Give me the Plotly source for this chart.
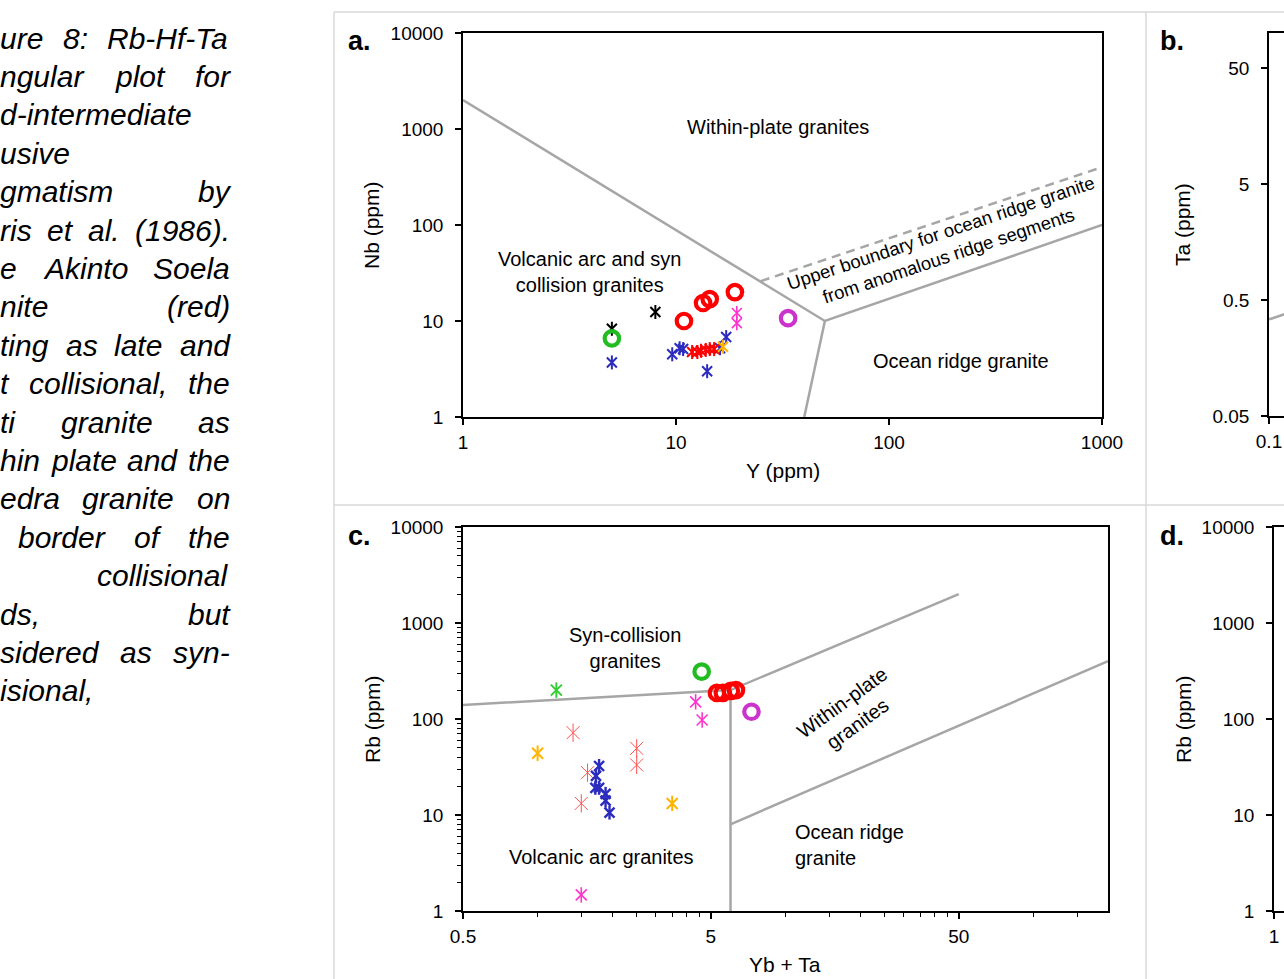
import math
import plotly.graph_objects as go

W, H = 1284, 979
FONT = "Liberation Sans, Arial, sans-serif"


def px(x):
    return x / W


def py(y):
    return 1 - y / H


# ---------------- DATA ----------------
# Panel a: Nb vs Y (ppm)
a_black_Y = [5.0, 8.0]
a_black_Nb = [8.3, 12.4]
a_blue_Y = [5.0, 9.6, 10.4, 10.8, 14.0, 16.1, 17.2]
a_blue_Nb = [3.7, 4.5, 5.2, 5.1, 3.0, 5.2, 6.8]
a_red_Y = [11.9, 12.6, 13.1, 13.8, 14.4, 15.1]
a_red_Nb = [4.75, 4.75, 4.9, 5.0, 5.1, 5.1]
a_orange_Y = [16.6]
a_orange_Nb = [5.4]
a_pink_Y = [19.3, 19.3]
a_pink_Nb = [12.1, 9.5]
a_redc_Y = [10.9, 13.4, 14.4, 18.9]
a_redc_Nb = [10.0, 15.4, 16.9, 20.0]
a_greenc_Y = [5.0]
a_greenc_Nb = [6.6]
a_magc_Y = [33.6]
a_magc_Nb = [10.7]

# Panel a boundaries (Pearce et al. 1984)
a_main_x = [1, 50, 1000]
a_main_y = [2000, 10, 100]
a_orgv_x = [50, 40]
a_orgv_y = [10, 1]
a_dash_x = [25, 1000]
a_dash_y = [26, 400]

# Panel b boundary (only its start is visible)
b_line_x = [0.1, 1.0]
b_line_y = [0.34, 1.38]

# Panel c: Rb vs Yb + Ta
c_green_x = [1.19]
c_green_y = [200]
c_lred_x = [1.39, 1.59, 1.50, 2.51, 2.51]
c_lred_y = [72, 27.6, 13.2, 49.5, 33.2]
c_orange_x = [1.0, 3.49]
c_orange_y = [44, 13.2]
c_blue_x = [1.77, 1.72, 1.71, 1.77, 1.88, 1.88, 1.95]
c_blue_y = [32.4, 25.5, 19.2, 19.2, 16.6, 14.1, 10.6]
c_pink_x = [4.34, 4.61, 1.50]
c_pink_y = [151, 97.7, 1.47]
c_greenc_x = [4.59]
c_greenc_y = [311]
c_magc_x = [7.29]
c_magc_y = [119]
c_redc_x = [5.29, 5.59, 6.02, 6.31]
c_redc_y = [187, 187, 196, 200]

# Panel c boundaries
c_b1_x = [0.5, 6, 50]
c_b1_y = [140, 200, 2000]
c_b2_x = [6, 6]
c_b2_y = [200, 1]
c_b3_x = [6, 200]
c_b3_y = [8, 400]

# Tick labels
a_xticks = [1, 10, 100, 1000]
a_yticks = [1, 10, 100, 1000, 10000]
b_yticks = [0.05, 0.5, 5, 50]
b_yticklabels = ["0.05", "0.5", "5", "50"]
c_xticks = [0.5, 5, 50]
c_xticklabels = ["0.5", "5", "50"]
c_yticks = [1, 10, 100, 1000, 10000]

# Caption text (visible part of the justified column)
caption_lines = [
    ("ure 8: Rb-Hf-Ta", "j"),
    ("ngular plot for", "j"),
    ("d-intermediate", "l"),
    ("usive", "l"),
    ("gmatism by", "j"),
    ("ris et al. (1986).", "j"),
    ("e Akinto Soela", "j"),
    ("nite (red)", "j"),
    ("ting as late and", "j"),
    ("t collisional, the", "j"),
    ("ti granite as", "j"),
    ("hin plate and the", "j"),
    ("edra granite on", "j"),
    ("border of the", "j18"),
    ("collisional", "r"),
    ("ds, but", "j"),
    ("sidered as syn-", "j"),
    ("isional,", "l"),
]

# ---------------- COLOURS ----------------
BLUE = "#2b2bbf"
RED = "#ff0000"
LRED = "#ff5050"
PINK = "#ff33cc"
MAG = "#cc33cc"
GREEN = "#22bb22"
LGREEN = "#33cc33"
ORANGE = "#ffb400"
GRAY = "#a6a6a6"

fig = go.Figure()


def star(x, y, color, xa, ya, size=10, lw=2.0):
    for sym in ("x-thin-open", "line-ns-open"):
        fig.add_trace(go.Scatter(
            x=x, y=y, mode="markers", xaxis=xa, yaxis=ya, showlegend=False,
            hoverinfo="skip", cliponaxis=False,
            marker=dict(symbol=sym, size=size, color=color,
                        line=dict(width=lw, color=color))))


def ring(x, y, color, xa, ya, size=14.5, lw=4.2):
    fig.add_trace(go.Scatter(
        x=x, y=y, mode="markers", xaxis=xa, yaxis=ya, showlegend=False,
        hoverinfo="skip", cliponaxis=False,
        marker=dict(symbol="circle-open", size=size, color=color,
                    line=dict(width=lw, color=color))))


def bline(x, y, xa, ya, dash="solid"):
    fig.add_trace(go.Scatter(
        x=x, y=y, mode="lines", xaxis=xa, yaxis=ya, showlegend=False,
        hoverinfo="skip", line=dict(color=GRAY, width=2.5, dash=dash)))


# Panel a
bline(a_main_x, a_main_y, "x", "y")
bline(a_orgv_x, a_orgv_y, "x", "y")
bline(a_dash_x, a_dash_y, "x", "y", dash="9px,6px")
star(a_blue_Y, a_blue_Nb, BLUE, "x", "y")
star(a_red_Y, a_red_Nb, RED, "x", "y")
star(a_orange_Y, a_orange_Nb, ORANGE, "x", "y")
star(a_pink_Y, a_pink_Nb, PINK, "x", "y", lw=1.6)
star(a_black_Y, a_black_Nb, "#000000", "x", "y")
ring(a_greenc_Y, a_greenc_Nb, GREEN, "x", "y")
ring(a_redc_Y, a_redc_Nb, RED, "x", "y")
ring(a_magc_Y, a_magc_Nb, MAG, "x", "y")

# Panel b
bline(b_line_x, b_line_y, "x2", "y2")

# Panel c
bline(c_b1_x, c_b1_y, "x3", "y3")
bline(c_b2_x, c_b2_y, "x3", "y3")
bline(c_b3_x, c_b3_y, "x3", "y3")
star(c_lred_x, c_lred_y, LRED, "x3", "y3", size=13, lw=1.0)
star(c_orange_x, c_orange_y, ORANGE, "x3", "y3", size=11, lw=2.0)
star(c_blue_x, c_blue_y, BLUE, "x3", "y3", size=10, lw=2.4)
star(c_pink_x, c_pink_y, PINK, "x3", "y3", size=11, lw=1.6)
star(c_green_x, c_green_y, LGREEN, "x3", "y3", size=11, lw=2.0)
ring(c_greenc_x, c_greenc_y, GREEN, "x3", "y3")
ring(c_magc_x, c_magc_y, MAG, "x3", "y3")
ring(c_redc_x, c_redc_y, RED, "x3", "y3")

# Panel d: axes only
fig.add_trace(go.Scatter(x=[1], y=[1], mode="markers", xaxis="x4", yaxis="y4",
                         showlegend=False, hoverinfo="skip",
                         marker=dict(size=1, opacity=0)))

tickfont = dict(family=FONT, size=19, color="#000000")
ax_common = dict(type="log", showgrid=False, zeroline=False, showline=True,
                 linecolor="#000000", linewidth=1.5, ticks="outside",
                 ticklen=6, tickwidth=1.5, tickcolor="#000000",
                 tickfont=tickfont, fixedrange=True, automargin=False)

minor_c_y = [m * 10 ** d for d in range(0, 4) for m in range(2, 10)]
minor_c_x = [0.5 * k * 10 ** d for d in range(0, 3) for k in range(2, 10)]
minor_c_x = [v for v in minor_c_x if v < 200]

fig.update_layout(
    width=W, height=H,
    margin=dict(l=0, r=0, t=0, b=0, pad=0, autoexpand=False),
    paper_bgcolor="#ffffff", plot_bgcolor="#ffffff", showlegend=False,
    xaxis=dict(ax_common, domain=[px(463), px(1102)], range=[0, 3],
               anchor="y", mirror=True, tickvals=a_xticks,
               ticktext=[str(v) for v in a_xticks], ticklabelstandoff=1),
    yaxis=dict(ax_common, domain=[py(417), py(33)], range=[0, 4],
               anchor="x", mirror=True, tickvals=a_yticks,
               ticktext=[str(v) for v in a_yticks], ticklabelstandoff=8),
    xaxis2=dict(ax_common, domain=[px(1269), 1.0],
                range=[-1, -1 + 15 / 213], anchor="y2", mirror=True,
                tickvals=[0.1], ticktext=["0.1"], ticklabelstandoff=1),
    yaxis2=dict(ax_common, domain=[py(416), py(33)],
                range=[math.log10(0.05), 2], anchor="x2",
                tickvals=b_yticks, ticktext=b_yticklabels,
                ticklabelstandoff=8),
    xaxis3=dict(ax_common, domain=[px(463), px(1108)],
                range=[math.log10(0.5), math.log10(200)], anchor="y3",
                mirror=True, tickvals=c_xticks, ticktext=c_xticklabels,
                ticklabelstandoff=1,
                minor=dict(tickvals=minor_c_x, ticks="outside", ticklen=4,
                           tickwidth=1, tickcolor="#000000")),
    yaxis3=dict(ax_common, domain=[py(911), py(527)], range=[0, 4],
                anchor="x3", mirror=True, tickvals=c_yticks,
                ticktext=[str(v) for v in c_yticks], ticklabelstandoff=8,
                minor=dict(tickvals=minor_c_y, ticks="outside", ticklen=4,
                           tickwidth=1, tickcolor="#000000")),
    xaxis4=dict(ax_common, domain=[px(1274), 1.0], range=[0, 0.07],
                anchor="y4", mirror=True, tickvals=[1], ticktext=["1"],
                ticklabelstandoff=1),
    yaxis4=dict(ax_common, domain=[py(911), py(527)], range=[0, 4],
                anchor="x4", tickvals=c_yticks,
                ticktext=[str(v) for v in c_yticks], ticklabelstandoff=8),
)

ann = []


def text(x, y, s, size=20, angle=0, xanchor="center", align="center",
         bold=False, italic=False):
    ann.append(dict(x=px(x), y=py(y), xref="paper", yref="paper", text=s,
                    showarrow=False, xanchor=xanchor, yanchor="middle",
                    align=align, textangle=angle,
                    font=dict(family=FONT, size=size, color="#000000",
                              weight="bold" if bold else "normal",
                              style="italic" if italic else "normal")))


# panel letters
text(359, 41, "a.", size=27, bold=True)
text(1172, 41, "b.", size=27, bold=True)
text(359, 536, "c.", size=27, bold=True)
text(1172, 536, "d.", size=27, bold=True)

# axis titles
text(372, 225, "Nb (ppm)", size=21, angle=-90)
text(783, 470, "Y (ppm)", size=21)
text(1183, 225, "Ta (ppm)", size=21, angle=-90)
text(372, 719, "Rb (ppm)", size=21, angle=-90)
text(1183, 719, "Rb (ppm)", size=21, angle=-90)
text(785, 964, "Yb + Ta", size=21)

# field labels panel a
text(778, 127, "Within-plate granites")
text(589, 272, "Volcanic arc and syn<br>collision granites")
text(944, 244, "Upper boundary for ocean ridge granite<br>from anomalous ridge segments",
     size=18.5, angle=-18.5)
text(961, 361, "Ocean ridge granite")

# field labels panel c
text(625, 648, "Syn-collision<br>granites")
text(601, 857, "Volcanic arc granites")
text(850, 713, "Within-plate<br>granites", angle=-36)
text(793, 845, "Ocean ridge<br>granite", xanchor="left", align="left")

# caption column (justified)
AW = {" ": 278, "(": 333, ")": 333, ",": 278, "-": 333, ".": 278, ":": 278,
      "R": 722, "H": 722, "T": 611, "A": 667, "S": 667,
      "a": 556, "b": 556, "c": 500, "d": 556, "e": 556, "f": 278, "g": 556,
      "h": 556, "i": 222, "k": 500, "l": 222, "m": 833, "n": 556, "o": 556,
      "p": 556, "r": 333, "s": 500, "t": 278, "u": 556, "v": 500, "y": 500}
CAP = 30
RIGHT = 230


def tw(s):
    return sum(AW.get(ch, 556) for ch in s) * CAP / 1000


for i, (line, mode) in enumerate(caption_lines):
    y = 38 + i * 38.4
    words = line.split(" ")
    if mode == "l":
        text(-2, y, line, size=CAP, xanchor="left", italic=True)
        continue
    if mode == "r":
        text(RIGHT, y, line, size=CAP, xanchor="right", italic=True)
        continue
    x0 = 18 if mode == "j18" else 0
    total = sum(tw(w) for w in words)
    gap = (RIGHT - x0 - total) / (len(words) - 1)
    x = x0
    for w in words:
        text(x - 2, y, w, size=CAP, xanchor="left", italic=True)
        x += tw(w) + gap

fig.update_layout(annotations=ann)

# light panel frames
shapes = []
for (x0, y0, x1, y1) in [(334, 12, 334, 979), (1146, 12, 1146, 979),
                         (334, 12, 1290, 12), (334, 505, 1290, 505)]:
    shapes.append(dict(type="line", xref="paper", yref="paper",
                       x0=px(x0), y0=py(y0), x1=px(x1), y1=py(y1),
                       line=dict(color="#d9d9d9", width=1.5)))
fig.update_layout(shapes=shapes)

fig.write_html("out.html")
